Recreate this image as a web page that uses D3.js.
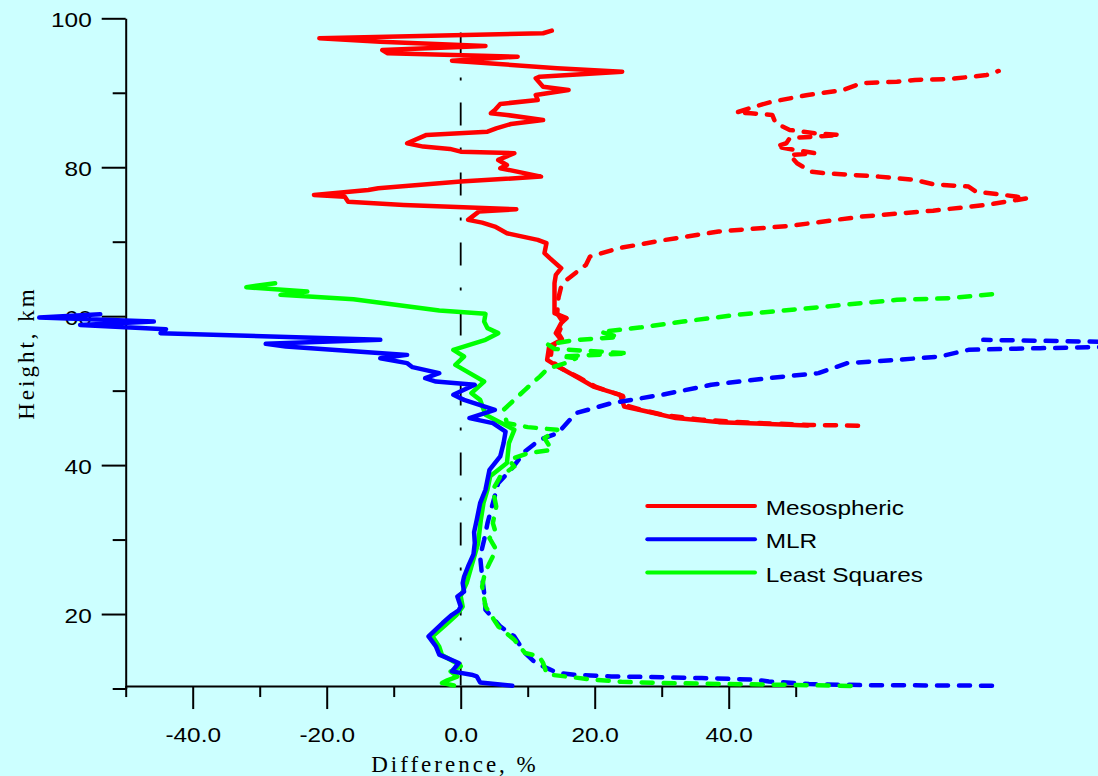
<html>
<head>
<meta charset="utf-8">
<script src="https://d3js.org/d3.v7.min.js"></script>
<style>
  body { margin: 0; background: #ccffff; }
  svg { display: block; }
</style>
</head>
<body>
<svg width="1098" height="776"></svg>
<script>
// profiles as [height km, difference %]
const mesoSolid = [
  [45.32, 51.8], [45.77, 38.5], [46.31, 32.1], [47.19, 27.8], [47.87, 24.4], [49.44, 23.8],
  [50.55, 19.8], [51.89, 17.2], [53.23, 14.5], [54.13, 12.9], [55.92, 13.2], [56.82, 15.0],
  [57.72, 14.2], [59.06, 15.0], [59.73, 15.8], [60.40, 14.0], [64.43, 14.0], [65.54, 14.2],
  [66.44, 15.0], [67.79, 13.3], [68.46, 12.5], [69.80, 12.8], [70.24, 11.5], [71.14, 6.9],
  [72.03, 5.1], [72.56, 3.2], [72.93, 1.1], [74.04, 2.7], [74.36, 8.3], [74.94, -8.5],
  [75.38, -16.8], [76.05, -17.3], [76.28, -21.9], [76.95, -13.8], [77.18, -12.3], [78.07, 0],
  [78.74, 12.0], [79.87, 5.9], [80.31, 6.9], [80.98, 5.6], [81.88, 8.0], [82.09, 0],
  [82.46, -1.6], [82.77, -5.6], [83.22, -8.0], [84.34, -5.1], [84.78, 4.0], [85.23, 5.3],
  [85.81, 7.5], [86.35, 12.3], [87.02, 6.9], [87.25, 4.5], [87.69, 5.1], [88.50, 5.9],
  [89.03, 11.5], [89.70, 11.2], [90.38, 16.1], [90.82, 12.3], [91.95, 11.2], [92.16, 11.8],
  [92.83, 24.1], [93.29, 14.4], [94.31, -1.3], [94.85, 8.5], [95.30, -10.9], [95.74, -11.7],
  [96.28, 3.7], [96.86, -12.0], [97.32, -21.1], [97.99, 12.3], [98.34, 13.6]
];
const mesoDashed = [
  [45.30, 59.3], [45.40, 52.0], [45.70, 43.0], [46.10, 36.0], [46.70, 30.5], [47.40, 27.0],
  [48.00, 24.8], [49.30, 24.2], [50.50, 20.2], [51.80, 17.6], [53.10, 14.8], [54.10, 13.4],
  [55.90, 13.6], [56.80, 15.2], [57.70, 14.6], [59.10, 15.3], [60.40, 14.4], [62.50, 14.6],
  [63.97, 15.0], [64.87, 15.8], [66.89, 18.7], [68.00, 19.3], [69.13, 23.6], [70.24, 30.5],
  [71.36, 38.5], [72.12, 49.1], [73.37, 59.8], [74.17, 70.5], [74.94, 78.5], [75.84, 84.6],
  [76.28, 81.1], [76.72, 76.9], [77.40, 75.8], [77.72, 70.5], [78.30, 67.8], [78.74, 62.4],
  [79.19, 54.5], [79.41, 52.3], [80.54, 50.2], [81.65, 49.1], [81.88, 52.9], [82.77, 47.0],
  [83.22, 48.6], [83.89, 49.1], [84.34, 56.6], [84.56, 52.9], [85.01, 49.1], [85.91, 47.0],
  [87.02, 46.5], [87.25, 43.3], [87.33, 41.1], [88.13, 43.8], [88.81, 46.5], [89.70, 51.8],
  [90.38, 57.1], [91.28, 59.8], [91.49, 65.1], [91.72, 67.8], [91.85, 73.1], [92.39, 78.5],
  [92.93, 80.3]
];
const mlrSolid = [
  [10.38, 7.7], [10.82, 2.9], [11.62, 2.4], [11.85, 1.6], [12.30, -1.3], [13.42, -0.3],
  [14.54, -3.2], [15.65, -3.7], [16.99, -4.8], [18.79, -2.7], [19.90, -1.3], [20.50, -0.3],
  [21.02, 0.0], [22.36, -0.5], [23.00, 0.5], [24.16, 0.3], [25.00, 0.5], [26.39, 1.1],
  [28.00, 1.9], [29.53, 2.1], [31.00, 2.0], [32.66, 2.4], [34.90, 2.9], [36.69, 3.7],
  [39.37, 4.3], [41.16, 5.9], [42.95, 6.4], [44.51, 6.7], [45.64, 4.8], [46.31, 1.3],
  [47.42, 5.1], [48.76, 0.5], [49.44, -1.1], [50.78, 2.1], [51.22, -3.7], [51.68, -5.3],
  [52.35, -3.2], [53.15, -7.2], [53.69, -8.0], [54.36, -12.0], [54.80, -8.0], [55.92, -26.1],
  [56.28, -29.1], [56.82, -12.0], [57.72, -44.8], [58.25, -44.0], [58.83, -56.8], [59.27, -45.8],
  [59.81, -62.9], [60.27, -53.8]
];
const mlrDashed = [
  [10.38, 79.3], [10.45, 60.0], [10.60, 52.0], [10.95, 46.0], [11.20, 43.8], [11.40, 36.0],
  [11.55, 28.0], [11.62, 22.5], [11.85, 17.0], [12.08, 14.5], [12.60, 13.2], [13.42, 11.2],
  [14.77, 9.6], [16.99, 8.0], [18.34, 5.9], [20.58, 3.7], [22.82, 3.5], [25.05, 3.2],
  [27.73, 2.9], [29.97, 3.5], [32.20, 4.0], [34.90, 4.8], [37.58, 5.6], [39.37, 7.5],
  [41.83, 9.6], [43.40, 11.8], [44.30, 14.5], [46.98, 17.2], [48.32, 22.5], [49.44, 30.0],
  [50.78, 37.4], [51.68, 46.0], [52.35, 53.4], [53.69, 57.7], [54.13, 65.1], [54.58, 71.5],
  [55.48, 75.8], [55.70, 86.5], [55.92, 100], [56.50, 100], [56.82, 78.0]
];
const lsSolid = [
  [10.40, -1.0], [10.75, -2.8], [11.10, -2.0], [11.60, -0.5], [12.30, -1.5], [13.00, 0.0],
  [13.60, -1.0], [14.50, -2.8], [15.60, -3.2], [17.00, -4.2], [18.60, -2.2], [19.90, -0.6],
  [21.00, 0.3], [22.40, 0.0], [24.20, 0.9], [26.40, 1.6], [29.50, 2.6], [32.60, 3.0],
  [34.90, 3.4], [36.70, 4.0], [38.50, 4.4], [40.27, 6.9], [42.95, 7.2], [44.74, 8.0],
  [46.75, 3.7], [48.76, 2.9], [49.66, 1.6], [51.22, 3.5], [52.79, 0.5], [53.46, -0.8],
  [54.58, 0.5], [55.48, -1.1], [56.82, 3.7], [57.72, 5.6], [58.39, 4.0], [59.28, 3.5],
  [60.31, 3.7], [60.75, -3.2], [62.28, -16.0], [62.86, -26.9], [63.30, -22.9], [63.89, -32.0],
  [64.43, -27.7]
];
const lsDashed = [
  [10.35, 58.2], [10.50, 48.0], [10.60, 40.0], [10.74, 30.0], [10.90, 24.0], [11.18, 19.8],
  [11.50, 16.8], [11.85, 13.4], [12.10, 12.8], [13.42, 12.3], [14.31, 11.7], [14.77, 9.6],
  [16.55, 8.0], [18.34, 5.6], [21.02, 3.7], [23.71, 3.2], [25.50, 3.6], [26.85, 4.3],
  [28.63, 5.3], [30.20, 4.3], [31.00, 5.2], [32.21, 4.8], [34.45, 5.3], [36.69, 4.8],
  [38.47, 5.9], [39.81, 8.0], [40.71, 7.2], [41.61, 10.1], [42.05, 13.6], [43.62, 12.5],
  [44.74, 14.4], [45.10, 10.0], [45.64, 6.9], [47.42, 6.4], [50.11, 9.6], [51.89, 11.8],
  [52.79, 12.8], [53.23, 14.0], [53.80, 16.0], [54.36, 17.2], [54.60, 15.0], [55.00, 25.0],
  [55.30, 19.8], [55.60, 14.0], [56.20, 13.0], [56.80, 17.0], [57.20, 23.6], [57.90, 20.9],
  [58.50, 27.0], [59.28, 33.2], [60.17, 41.1], [61.29, 54.5], [62.19, 65.1], [62.42, 73.1],
  [62.95, 79.3]
];

const legendNames = ["Mesospheric", "MLR", "Least Squares"];
const legendColors = ["#ff0000", "#0000ff", "#00ff00"];
const xMajorTicks = [-40, -20, 0, 20, 40];
const xMinorTicks = [-50, -30, -10, 10, 30, 50];
const yMajorTicks = [20, 40, 60, 80, 100];
const yMinorTicks = [10, 30, 50, 70, 90];
const zeroLineSpan = [10.33, 98.1];   // heights of the dash-dot 0 % line
const xAxisAt = 10.33;                // height where the x axis crosses

const svg = d3.select("svg");
svg.append("rect").attr("width", 1098).attr("height", 776).attr("fill", "#ccffff");

const xScale = d3.scaleLinear().domain([-50, 50]).range([125.7, 795.7]);
const yScale = d3.scaleLinear().domain([10, 100]).range([688.5, 18.3]);
const stretch = 1.22;   // the labels in the figure are drawn horizontally stretched

// zero reference line
svg.append("line")
  .attr("x1", xScale(0)).attr("x2", xScale(0))
  .attr("y1", yScale(zeroLineSpan[1])).attr("y2", yScale(zeroLineSpan[0]))
  .attr("stroke", "#000").attr("stroke-width", 1.8)
  .attr("stroke-dasharray", "23,22,3,22");

// Add X axis
const xMinor = svg.append("g")
  .attr("transform", `translate(0,${yScale(xAxisAt)})`)
  .call(d3.axisBottom(xScale).tickValues(xMinorTicks).tickSize(11).tickSizeOuter(0).tickFormat(""));
const xMajor = svg.append("g")
  .attr("transform", `translate(0,${yScale(xAxisAt)})`)
  .call(d3.axisBottom(xScale).tickValues(xMajorTicks).tickSize(23).tickSizeOuter(0)
    .tickFormat(d => d.toFixed(1)));
xMajor.select(".domain").remove();
xMajor.selectAll(".tick text")
  .attr("y", 56).attr("dy", null)
  .attr("transform", `scale(${stretch},1)`);

// Add Y axis
const yMinor = svg.append("g")
  .attr("transform", `translate(${xScale(-50)},0)`)
  .call(d3.axisLeft(yScale).tickValues(yMinorTicks).tickSize(13).tickSizeOuter(0).tickFormat(""));
const yMajor = svg.append("g")
  .attr("transform", `translate(${xScale(-50)},0)`)
  .call(d3.axisLeft(yScale).tickValues(yMajorTicks).tickSize(24).tickSizeOuter(0)
    .tickFormat(d3.format("d")));
yMajor.select(".domain").remove();
yMajor.selectAll(".tick text")
  .attr("x", -34 / stretch).attr("dy", "0.4em")
  .attr("transform", `scale(${stretch},1)`);

svg.selectAll(".domain, .tick line").attr("stroke", "#000").attr("stroke-width", 2);
svg.selectAll(".tick text")
  .attr("fill", "#000")
  .attr("font-family", "'Liberation Sans', Arial, sans-serif")
  .attr("font-size", 20);

// profile lines
const line = d3.line().x(d => xScale(d[1])).y(d => yScale(d[0]));
const series = [
  { data: lsSolid, color: legendColors[2], dash: null },
  { data: mlrSolid, color: legendColors[1], dash: null },
  { data: mesoSolid, color: legendColors[0], dash: null },
  { data: mesoDashed, color: legendColors[0], dash: "11,11" },
  { data: mlrDashed, color: legendColors[1], dash: "11,11" },
  { data: lsDashed, color: legendColors[2], dash: "11,11" }
];
svg.append("g").selectAll("path")
  .data(series).enter().append("path")
    .attr("d", d => line(d.data))
    .attr("fill", "none")
    .attr("stroke", d => d.color)
    .attr("stroke-width", 4.5)
    .attr("stroke-linejoin", "round")
    .attr("stroke-linecap", "round")
    .attr("stroke-dasharray", d => d.dash);

// legend
const legend = svg.append("g");
legendNames.forEach((name, i) => {
  const ly = 506 + i * 33.3;
  legend.append("line")
    .attr("x1", 647.3).attr("x2", 755).attr("y1", ly).attr("y2", ly)
    .attr("stroke", legendColors[i]).attr("stroke-width", 4).attr("stroke-linecap", "round");
  legend.append("text")
    .attr("transform", `translate(765.7,${ly + 9}) scale(${stretch},1)`)
    .attr("font-family", "'Liberation Sans', Arial, sans-serif")
    .attr("font-size", 20)
    .text(name);
});

// Label axes
svg.append("text")
  .attr("x", 455).attr("y", 772)
  .attr("text-anchor", "middle")
  .attr("font-family", "'Liberation Serif', 'Times New Roman', serif")
  .attr("font-size", 23).attr("letter-spacing", 3)
  .text("Difference, %");
svg.append("text")
  .attr("transform", "translate(34,353) rotate(-90)")
  .attr("text-anchor", "middle")
  .attr("font-family", "'Liberation Serif', 'Times New Roman', serif")
  .attr("font-size", 23).attr("letter-spacing", 3)
  .text("Height, km");
</script>
</body>
</html>
